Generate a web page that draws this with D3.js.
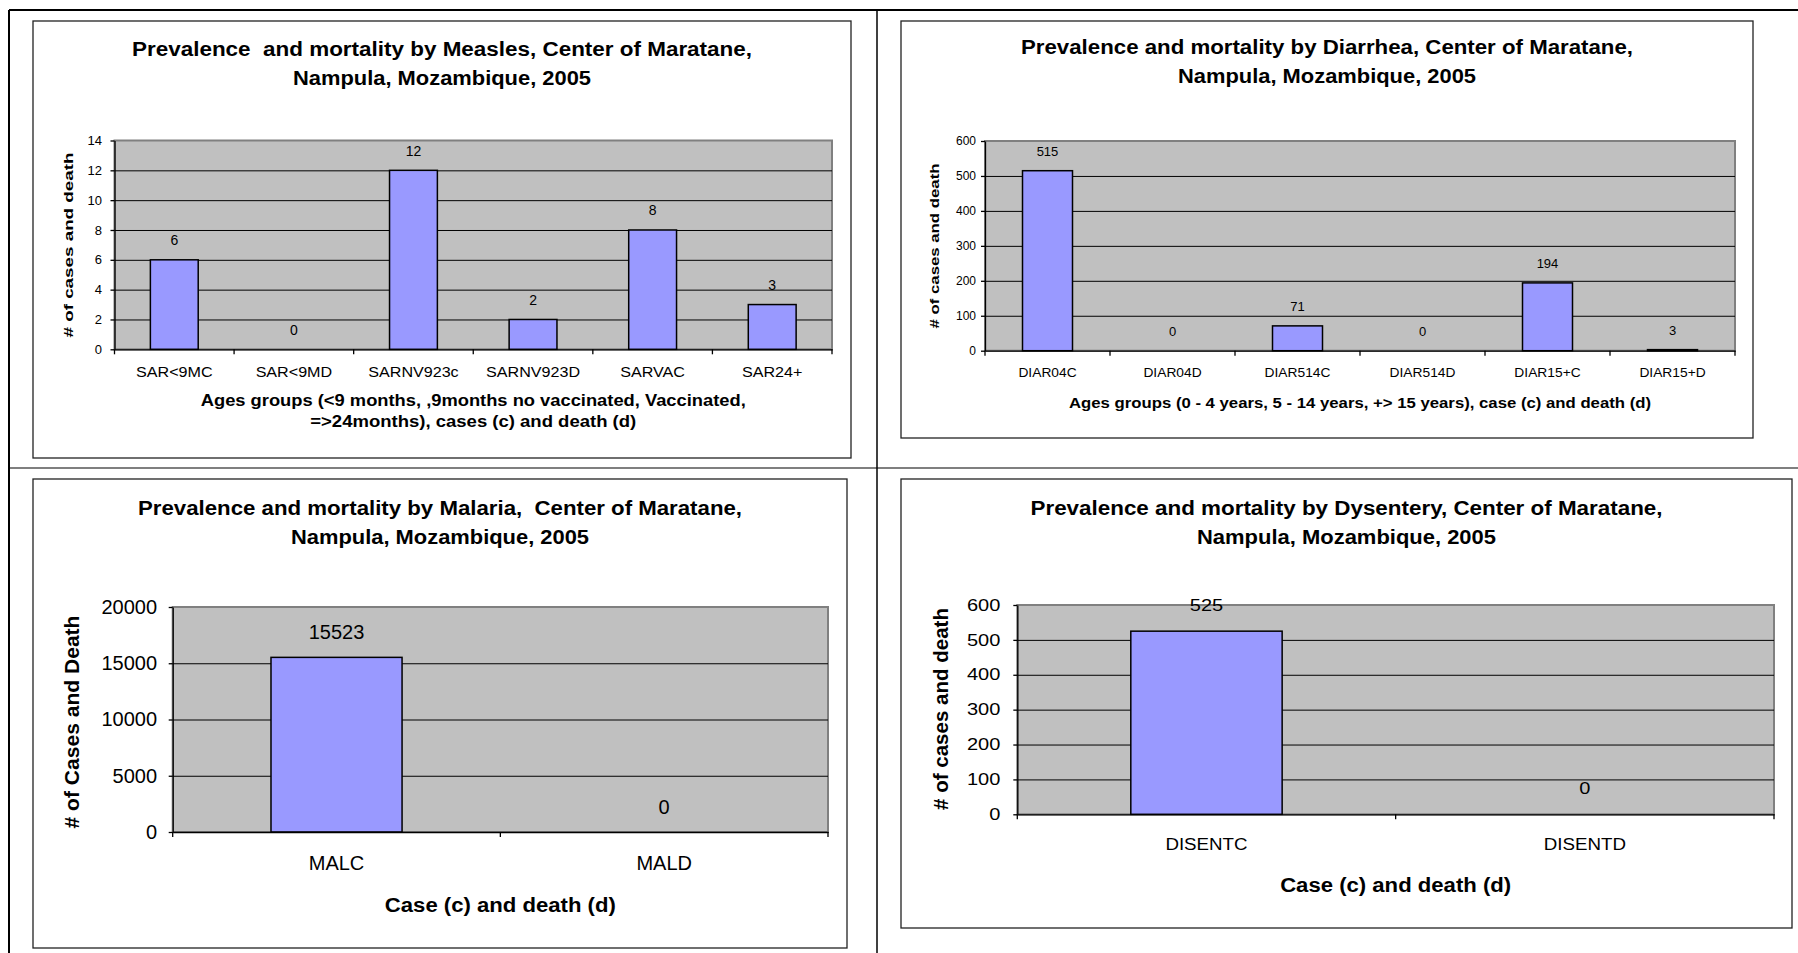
<!DOCTYPE html>
<html>
<head>
<meta charset="utf-8">
<title>Prevalence and mortality, Center of Maratane, 2005</title>
<script src="https://cdn.jsdelivr.net/npm/d3@7"></script>
<style>
  body { margin: 0; background: #fff; }
  svg { display: block; font-family: "Liberation Sans", Arial, sans-serif; }
  text { white-space: pre; fill: #000; }
  .frame { fill: #fff; stroke: #222; stroke-width: 1.3; }
  .plot-bg { fill: #c0c0c0; stroke: #808080; stroke-width: 2; }
  .grid line { stroke: #000; stroke-width: 1; }
  .axis path, .axis line, .edge { stroke: #000; stroke-width: 1.3; }
  .bar { fill: #9999ff; stroke: #000; stroke-width: 1.5; }
  .rule { stroke: #000; }
  .bold { font-weight: bold; }
</style>
</head>
<body>
<svg id="page" width="1798" height="953"></svg>
<script>
// ---- data ----
const measlesCategories = ['SAR<9MC', 'SAR<9MD', 'SARNV923c', 'SARNV923D', 'SARVAC', 'SAR24+'];
const measlesValues = [6, 0, 12, 2, 8, 3];
const measlesTicks = [0, 2, 4, 6, 8, 10, 12, 14];

const diarrheaCategories = ['DIAR04C', 'DIAR04D', 'DIAR514C', 'DIAR514D', 'DIAR15+C', 'DIAR15+D'];
const diarrheaValues = [515, 0, 71, 0, 194, 3];
const diarrheaTicks = [0, 100, 200, 300, 400, 500, 600];

const malariaCategories = ['MALC', 'MALD'];
const malariaValues = [15523, 0];
const malariaTicks = [0, 5000, 10000, 15000, 20000];

const dysenteryCategories = ['DISENTC', 'DISENTD'];
const dysenteryValues = [525, 0];
const dysenteryTicks = [0, 100, 200, 300, 400, 500, 600];

const titleLine2 = 'Nampula, Mozambique, 2005';

const svg = d3.select('#page');

// stretch a text to a given width (the source picture is slightly widened)
const fitWidth = (sel, w) => sel.attr('textLength', w).attr('lengthAdjust', 'spacingAndGlyphs');
const stretch = (sel, sx) => {
  if (sx === 1) return;
  sel.each(function () {
    const w = this.getComputedTextLength();
    d3.select(this).attr('textLength', w * sx).attr('lengthAdjust', 'spacingAndGlyphs');
  });
};

// page rules (the table the charts sit in)
svg.append('line').attr('class', 'rule').attr('x1', 9).attr('y1', 10).attr('x2', 1798).attr('y2', 10).attr('stroke-width', 2);
svg.append('line').attr('class', 'rule').attr('x1', 9).attr('y1', 10).attr('x2', 9).attr('y2', 953).attr('stroke-width', 2);
svg.append('line').attr('class', 'rule').attr('x1', 877).attr('y1', 10).attr('x2', 877).attr('y2', 953).attr('stroke-width', 1.5);
svg.append('line').attr('class', 'rule').attr('x1', 9).attr('y1', 468).attr('x2', 1798).attr('y2', 468).attr('stroke-width', 1.2);

function drawChart(o) {
  const [fx0, fy0, fx1, fy1] = o.frame;
  const [px0, py0, px1, py1] = o.plot;
  const g = svg.append('g');

  g.append('rect').attr('class', 'frame')
    .attr('x', fx0).attr('y', fy0).attr('width', fx1 - fx0).attr('height', fy1 - fy0);

  // title
  const cx = (fx0 + fx1) / 2;
  o.title.forEach((line, i) => {
    g.append('text').attr('class', 'bold')
      .attr('x', cx).attr('y', o.titleY[i])
      .attr('text-anchor', 'middle').attr('font-size', 20)
      .text(line)
      .call(fitWidth, o.titleW[i]);
  });

  const x = d3.scaleBand().domain(o.categories).range([px0, px1])
    .paddingInner(0.6).paddingOuter(0.3);
  const y = d3.scaleLinear().domain([0, d3.max(o.ticks)]).range([py1, py0]);
  const yMax = d3.max(o.ticks);

  g.append('rect').attr('class', 'plot-bg')
    .attr('x', px0).attr('y', py0).attr('width', px1 - px0).attr('height', py1 - py0);

  g.append('g').attr('class', 'grid')
    .attr('transform', `translate(${px0},0)`)
    .call(d3.axisLeft(y).tickValues(o.ticks.filter(t => t > 0 && t < yMax))
      .tickSize(-(px1 - px0)).tickFormat(''))
    .call(s => s.select('.domain').remove());

  g.selectAll('.bar')
    .data(o.values)
    .join('rect')
    .attr('class', 'bar')
    .attr('x', (d, i) => x(o.categories[i]))
    .attr('width', x.bandwidth())
    .attr('y', d => y(d))
    .attr('height', d => y(0) - y(d));

  // y axis
  const yAxis = g.append('g').attr('class', 'axis')
    .attr('transform', `translate(${px0},0)`)
    .call(d3.axisLeft(y).tickValues(o.ticks).tickSize(4).tickSizeOuter(0)
      .tickPadding(o.tickGap - 4).tickFormat(d3.format('d')));
  yAxis.selectAll('text').attr('font-size', o.tickFont).attr('font-family', null)
    .call(stretch, o.tickSx);
  yAxis.attr('font-family', null);

  // x axis: labels under category centres, ticks on category edges
  const xAxis = g.append('g').attr('class', 'axis')
    .attr('transform', `translate(0,${py1})`)
    .call(d3.axisBottom(x).tickSize(0).tickSizeOuter(0).tickPadding(0));
  xAxis.attr('font-family', null);
  xAxis.selectAll('text').attr('font-size', o.catFont).attr('y', o.catOffset).attr('dy', 0)
    .call(stretch, o.catSx);
  const edges = o.categories.map(c => x(c) - (x.step() - x.bandwidth()) / 2).concat([px1]);
  g.selectAll('.edge').data(edges).join('line').attr('class', 'edge')
    .attr('x1', d => d).attr('x2', d => d).attr('y1', py1).attr('y2', py1 + 5);

  // data labels
  g.selectAll('.value')
    .data(o.values)
    .join('text')
    .attr('class', 'value')
    .attr('x', (d, i) => x(o.categories[i]) + x.bandwidth() / 2)
    .attr('y', d => y(d) - o.labelOffset)
    .attr('text-anchor', 'middle')
    .attr('font-size', o.labelFont)
    .text(d => d)
    .call(stretch, o.labelSx);

  // axis titles
  g.append('text').attr('class', 'bold')
    .attr('transform', `translate(${o.yTitleAt[0]},${o.yTitleAt[1]}) rotate(-90)`)
    .attr('dy', '0.35em').attr('text-anchor', 'middle')
    .attr('font-size', o.yTitleFont)
    .text(o.yTitle)
    .call(fitWidth, o.yTitleW);

  const xc = (px0 + px1) / 2;
  o.xTitle.forEach((line, i) => {
    g.append('text').attr('class', 'bold')
      .attr('x', xc).attr('y', o.xTitleY[i])
      .attr('text-anchor', 'middle').attr('font-size', o.xTitleFont)
      .text(line)
      .call(fitWidth, o.xTitleW[i]);
  });
}

drawChart({
  frame: [33, 21, 851, 458],
  plot: [114.5, 140.5, 832, 349.3],
  categories: measlesCategories, values: measlesValues, ticks: measlesTicks,
  title: ['Prevalence  and mortality by Measles, Center of Maratane,', titleLine2],
  titleY: [56, 85], titleW: [620, 298],
  yTitle: '# of cases and death', yTitleAt: [68, 245], yTitleW: 185, yTitleFont: 13,
  xTitle: ['Ages groups (<9 months, ,9months no vaccinated, Vaccinated,', '=>24months), cases (c) and death (d)'],
  xTitleY: [406, 427], xTitleW: [545, 326], xTitleFont: 16,
  tickFont: 13, tickSx: 1, tickGap: 12.5,
  catFont: 14, catSx: 1.15, catOffset: 27.5,
  labelFont: 14, labelSx: 1, labelOffset: 14.5
});

drawChart({
  frame: [901, 21, 1753, 438],
  plot: [985, 141, 1735, 350.7],
  categories: diarrheaCategories, values: diarrheaValues, ticks: diarrheaTicks,
  title: ['Prevalence and mortality by Diarrhea, Center of Maratane,', titleLine2],
  titleY: [54, 83], titleW: [612, 298],
  yTitle: '# of cases and death', yTitleAt: [934, 246], yTitleW: 165, yTitleFont: 13,
  xTitle: ['Ages groups (0 - 4 years, 5 - 14 years, +> 15 years), case (c) and death (d)'],
  xTitleY: [408], xTitleW: [582], xTitleFont: 15,
  tickFont: 12, tickSx: 1, tickGap: 9,
  catFont: 13, catSx: 1.06, catOffset: 26,
  labelFont: 13, labelSx: 1, labelOffset: 15
});

drawChart({
  frame: [33, 479, 847, 948],
  plot: [172.7, 607, 828, 832],
  categories: malariaCategories, values: malariaValues, ticks: malariaTicks,
  title: ['Prevalence and mortality by Malaria,  Center of Maratane,', titleLine2],
  titleY: [515, 544], titleW: [604, 298],
  yTitle: '# of Cases and Death', yTitleAt: [72, 722], yTitleW: 213, yTitleFont: 20,
  xTitle: ['Case (c) and death (d)'],
  xTitleY: [912], xTitleW: [231], xTitleFont: 20,
  tickFont: 20, tickSx: 1, tickGap: 15.7,
  catFont: 20, catSx: 1, catOffset: 38,
  labelFont: 20, labelSx: 1, labelOffset: 18
});

drawChart({
  frame: [901, 479, 1792, 928],
  plot: [1017.3, 605, 1774, 814.3],
  categories: dysenteryCategories, values: dysenteryValues, ticks: dysenteryTicks,
  title: ['Prevalence and mortality by Dysentery, Center of Maratane,', titleLine2],
  titleY: [515, 544], titleW: [632, 299],
  yTitle: '# of cases and death', yTitleAt: [941, 709], yTitleW: 202, yTitleFont: 20,
  xTitle: ['Case (c) and death (d)'],
  xTitleY: [892], xTitleW: [231], xTitleFont: 20,
  tickFont: 16, tickSx: 1.25, tickGap: 17,
  catFont: 16, catSx: 1.17, catOffset: 36,
  labelFont: 16, labelSx: 1.25, labelOffset: 20
});
</script>
</body>
</html>
